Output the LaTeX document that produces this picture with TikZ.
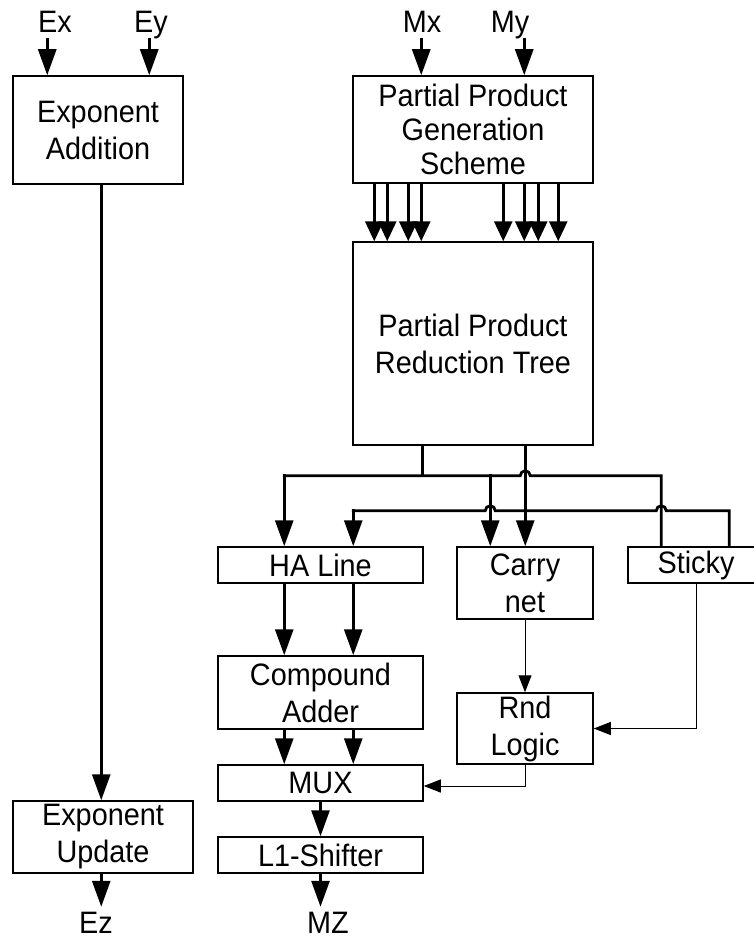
\documentclass[tikz,border=0pt]{standalone}
\usepackage{fontspec}
\setmainfont{Liberation Sans}[FakeStretch=0.93]
\usetikzlibrary{arrows.meta, calc}

\tikzset{
  blk/.style={draw, line width=1.5pt, align=center, inner sep=0pt,
    font=\fontsize{31}{37}\selectfont},
  lbl/.style={anchor=base, inner sep=0pt, font=\fontsize{31}{37}\selectfont},
  wire/.style={line width=2.8pt, line cap=rect},
  arr/.style={wire, -{Triangle[length=26pt, width=18pt]}},
  arrs/.style={wire, -{Triangle[length=20pt, width=18pt]}},
  sig/.style={line width=1pt, -{Triangle[length=17pt, width=13pt]}},
}

\begin{document}
\begin{tikzpicture}[x=1pt, y=-1pt]
    \useasboundingbox (0,0) rectangle (754,939);

    % Exponent datapath
    \node[blk, minimum width=170, minimum height=108] (expadd) at (98,130) {Exponent\\Addition};
    \node[blk, minimum width=180, minimum height=72] (expupd) at (103,837) {Exponent\\Update};

    % Mantissa datapath
    \node[blk, minimum width=240, minimum height=107] (ppg) at (473,129.5) {Partial Product\\[-3pt]Generation\\[-3pt]Scheme};
    \node[blk, minimum width=240, minimum height=203] (ppr) at (473,343.5) {Partial Product\\Reduction Tree};
    \node[blk, minimum width=205, minimum height=36] (ha) at (320.5,565) {HA Line};
    \node[blk, minimum width=136, minimum height=72] (carry) at (525,583) {Carry\\net};
    \node[blk, minimum width=136, minimum height=36] (sticky) at (696,565) {Sticky};
    \node[blk, minimum width=205, minimum height=73] (cadd) at (320.5,692.5) {Compound\\Adder};
    \node[blk, minimum width=136, minimum height=71] (rnd) at (525,728.5) {Rnd\\Logic};
    \node[blk, minimum width=205, minimum height=36] (mux) at (320.5,783) {MUX};
    \node[blk, minimum width=205, minimum height=36] (shift) at (320.5,855) {L1-Shifter};

    % Operands and results
    \node[lbl] (ex) at (55,33) {Ex};
    \node[lbl] (ey) at (151,33) {Ey};
    \node[lbl] (mx) at (422,33) {Mx};
    \node[lbl] (my) at (510,33) {My};
    \node[lbl] (ez) at (96,933) {Ez};
    \node[lbl] (mz) at (328,933) {MZ};

    % Inputs
    \draw[arr] ([xshift=35,yshift=36]expadd.north west) -- ++(0,36);
    \draw[arr] ([xshift=137,yshift=36]expadd.north west) -- ++(0,36);
    \draw[arr] ([xshift=69,yshift=36]ppg.north west) -- ++(0,36);
    \draw[arr] ([xshift=172,yshift=36]ppg.north west) -- ++(0,36);

    % Partial products into the tree
    \foreach \dx in {22,35,56,69,151,172,186,206}
        \draw[arrs] ([xshift=\dx]ppg.south west) -- ([xshift=\dx]ppr.north west);

    % Exponent path
    \draw[arr] ([xshift=89]expadd.south west) -- ([xshift=89]expupd.north west);
    \draw[arr] ([xshift=89]expupd.south west) -- ++(0,33);

    % Tree outputs
    \coordinate (trA) at ([xshift=70]ppr.south west);
    \coordinate (trB) at ([xshift=173]ppr.south west);
    \coordinate (busA) at ([yshift=-30]ppr.south);
    \coordinate (busB) at ([yshift=-65]ppr.south);
    \coordinate (haA) at ([xshift=67]ha.north west);
    \coordinate (haB) at ([xshift=136]ha.north west);
    \coordinate (cyA) at ([xshift=34]carry.north west);
    \coordinate (stA) at ([xshift=34]sticky.north west);
    \coordinate (stB) at ([xshift=102]sticky.north west);

    \draw[wire] (trA) -- (trA |- busA);
    \draw[wire] (haA |- busA) -- ($(trB |- busA)+(-5,0)$)
        arc[start angle=180, end angle=360, radius=5] -- (stA |- busA) -- (stA);
    \draw[arr] (haA |- busA) -- (haA);
    \draw[arr] (cyA |- busA) -- (cyA);
    \draw[arr] (trB) -- (trB |- carry.north);
    \draw[wire] (haB |- busB) -- ($(cyA |- busB)+(-5,0)$)
        arc[start angle=180, end angle=360, radius=5] -- ($(stA |- busB)+(-5,0)$)
        arc[start angle=180, end angle=360, radius=5] -- (stB |- busB) -- (stB);
    \draw[arr] (haB |- busB) -- (haB);

    % Sum path
    \foreach \dx in {67,136} {
        \draw[arr] ([xshift=\dx]ha.south west) -- ([xshift=\dx]cadd.north west);
        \draw[arr] ([xshift=\dx]cadd.south west) -- ([xshift=\dx]mux.north west);
    }
    \draw[arr] (mux.south) -- (shift.north);
    \draw[arr] (shift.south) -- ++(0,33);

    % Rounding
    \draw[sig] (carry.south) -- (rnd.north);
    \draw[sig] (sticky.south) |- (rnd.east);
    \draw[sig] (rnd.south) |- ([yshift=-3]mux.east);
\end{tikzpicture}
\end{document}
